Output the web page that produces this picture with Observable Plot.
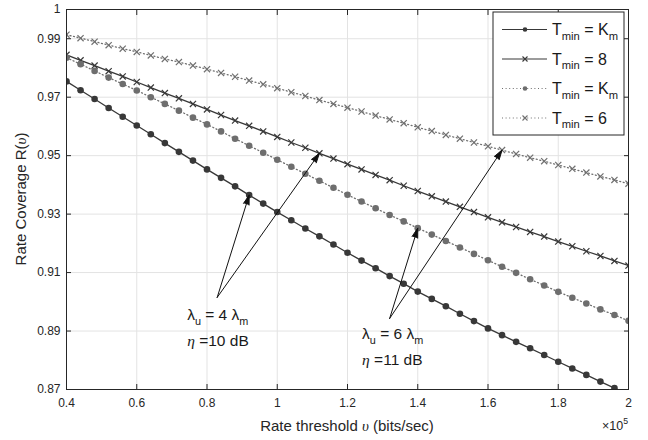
<!DOCTYPE html>
<html><head><meta charset="utf-8">
<script src="https://cdn.jsdelivr.net/npm/d3@7"></script>
<script src="https://cdn.jsdelivr.net/npm/@observablehq/plot@0.6"></script>
<style>
body{margin:0;background:#fff;}
#chart{position:relative;width:648px;height:440px;}
</style></head><body><div id="chart"></div>
<script>
// ---- data (rate threshold in units of 1e5 bits/sec) ----
const rates = [0.40,0.44,0.48,0.52,0.56,0.60,0.64,0.68,0.72,0.76,0.80,0.84,0.88,0.92,0.96,1.00,1.04,1.08,1.12,1.16,1.20,1.24,1.28,1.32,1.36,1.40,1.44,1.48,1.52,1.56,1.60,1.64,1.68,1.72,1.76,1.80,1.84,1.88,1.92,1.96,2.00];
// T_min = K_m (solid, dot)  lambda_u = 4 lambda_m
const coverageKmA = [0.9754,0.9724,0.9694,0.9663,0.9633,0.9603,0.9573,0.9543,0.9513,0.9483,0.9453,0.9424,0.9395,0.9365,0.9336,0.9307,0.9279,0.9251,0.9224,0.9196,0.9168,0.9141,0.9115,0.9088,0.9062,0.9035,0.9010,0.8985,0.8959,0.8934,0.8909,0.8886,0.8863,0.8841,0.8818,0.8795,0.8772,0.8750,0.8727,0.8705,0.8682];
// T_min = 8 (solid, x)
const coverage8 = [0.9845,0.9826,0.9808,0.9789,0.9771,0.9752,0.9733,0.9714,0.9696,0.9677,0.9658,0.9639,0.9620,0.9602,0.9583,0.9564,0.9545,0.9527,0.9508,0.9490,0.9471,0.9453,0.9434,0.9416,0.9397,0.9379,0.9361,0.9343,0.9325,0.9307,0.9289,0.9272,0.9256,0.9239,0.9223,0.9206,0.9190,0.9173,0.9157,0.9140,0.9124];
// T_min = K_m (dotted, dot)  lambda_u = 6 lambda_m
const coverageKmB = [0.9835,0.9813,0.9790,0.9767,0.9745,0.9723,0.9700,0.9677,0.9654,0.9630,0.9607,0.9583,0.9558,0.9534,0.9510,0.9486,0.9462,0.9438,0.9414,0.9390,0.9366,0.9343,0.9320,0.9297,0.9275,0.9252,0.9230,0.9208,0.9186,0.9164,0.9142,0.9120,0.9099,0.9077,0.9056,0.9034,0.9014,0.8994,0.8974,0.8955,0.8935];
// T_min = 6 (dotted, x)
const coverage6 = [0.9914,0.9902,0.9890,0.9878,0.9866,0.9855,0.9843,0.9831,0.9820,0.9808,0.9796,0.9783,0.9770,0.9757,0.9744,0.9731,0.9717,0.9704,0.9690,0.9677,0.9664,0.9651,0.9637,0.9624,0.9611,0.9597,0.9584,0.9571,0.9558,0.9545,0.9532,0.9519,0.9506,0.9493,0.9481,0.9468,0.9455,0.9442,0.9429,0.9417,0.9404];

const xTicks = [0.4,0.6,0.8,1,1.2,1.4,1.6,1.8,2];
const yTicks = [0.87,0.89,0.91,0.93,0.95,0.97,0.99,1];
const legendLabels = [["T","min"," = ","K","m"],["T","min"," = 8"],["T","min"," = ","K","m"],["T","min"," = 6"]];

// annotation arrows: start point and target (rate, coverage)
const arrowStarts = [[0.829,0.9015],[0.829,0.9015],[1.32,0.8943],[1.32,0.8943]];
const arrowTargets = [[0.92,0.9365],[1.12,0.9508],[1.40,0.9252],[1.64,0.9519]];
const annotationLines = [
  {x:0.745, y:0.8935, lam:"4", eta:"10"},
  {x:1.243, y:0.8870, lam:"6", eta:"11"}
];

// ---- styles ----
const styles = [
  {vals: coverageKmA, color:"#383838", dash:null, sym:"circle"},
  {vals: coverage8,   color:"#383838", dash:null, sym:"times"},
  {vals: coverageKmB, color:"#6e6e6e", dash:"1,2.6", sym:"circle"},
  {vals: coverage6,   color:"#707070", dash:"1,2.6", sym:"times"}
];
const fmt = d => String(+(+d).toFixed(2));
const AX = "#262626";

const marks = [
  Plot.gridX(xTicks.slice(1,-1), {stroke:"#e3e3e3", strokeOpacity:1}),
  Plot.gridY(yTicks.slice(1,-1), {stroke:"#e3e3e3", strokeOpacity:1}),
];
for (const s of styles) {
  marks.push(Plot.line(s.vals, {x:(d,i)=>rates[i], y:d=>d, stroke:s.color, strokeWidth:1.3, strokeDasharray:s.dash, clip:true}));
  if (s.sym === "circle")
    marks.push(Plot.dot(s.vals, {x:(d,i)=>rates[i], y:d=>d, r:3.3, fill:s.color, stroke:null, clip:true}));
  else
    marks.push(Plot.dot(s.vals, {x:(d,i)=>rates[i], y:d=>d, symbol:"times", r:2.9, stroke:s.color, strokeWidth:1.2, clip:true}));
}
marks.push(
  Plot.arrow(arrowStarts.map((a,i)=>({a, b:arrowTargets[i]})), {
    x1:d=>d.a[0], y1:d=>d.a[1], x2:d=>d.b[0], y2:d=>d.b[1],
    stroke:"#111", strokeWidth:1, headLength:15, headAngle:34
  }),
  Plot.frame({stroke:AX, strokeWidth:1}),
  Plot.axisX(xTicks, {anchor:"bottom", tickSize:0, tickPadding:9, tickFormat:fmt, label:null, fill:AX, fontSize:12}),
  Plot.axisY(yTicks, {anchor:"left", tickSize:0, tickPadding:6, tickFormat:fmt, label:null, fill:AX, fontSize:12}),
  Plot.axisX(xTicks, {anchor:"bottom", tickSize:-5, text:null, label:null, stroke:AX}),
  Plot.axisX(xTicks, {anchor:"top", tickSize:-5, text:null, label:null, stroke:AX}),
  Plot.axisY(yTicks, {anchor:"left", tickSize:-5, text:null, label:null, stroke:AX}),
  Plot.axisY(yTicks, {anchor:"right", tickSize:-5, text:null, label:null, stroke:AX})
);

const chart = Plot.plot({
  width:648, height:440,
  marginLeft:66, marginRight:20, marginTop:9, marginBottom:51,
  style:{fontFamily:"'Liberation Sans', Arial, sans-serif", fontSize:"12px", color:AX, background:"#fff"},
  x:{domain:[0.4,2]},
  y:{domain:[0.87,1]},
  marks
});
document.getElementById("chart").appendChild(chart);

// ---- post-processing: filled arrowheads, rich text ----
const svg = d3.select(chart);
svg.selectAll('g[aria-label="arrow"] path').attr("fill","#111").attr("stroke-linejoin","miter");
const sx = chart.scale("x"), sy = chart.scale("y");

function addText(x, y, parts, {size=14, anchor="start", transform=null, fill="#1a1a1a", family=null}={}) {
  const t = svg.append("text").attr("x",x).attr("y",y).attr("font-size",size)
    .attr("text-anchor",anchor).attr("fill",fill);
  if (family) t.attr("font-family", family);
  if (transform) t.attr("transform", transform);
  let shift = 0;
  for (const p of parts) {
    const [str, kind] = typeof p === "string" ? [p, null] : p;
    const ts = t.append("tspan").text(str);
    let target = 0, fs = size;
    if (kind === "sub") { target = size*0.3; fs = size*0.7; }
    if (kind === "sup") { target = -size*0.5; fs = size*0.7; }
    ts.attr("dy", target - shift).attr("font-size", fs);
    shift = target;
    if (kind === "it") ts.attr("font-style","italic").attr("font-family","'Liberation Serif', 'DejaVu Serif', serif");
  }
  return t;
}

// axis labels
const cx = (sx.apply(0.4)+sx.apply(2))/2, cy = (sy.apply(0.87)+sy.apply(1))/2;
addText(cx, 431, ["Rate threshold ", ["υ","it"], " (bits/sec)"], {size:15, anchor:"middle", fill:AX});
addText(0, 0, ["Rate Coverage R(", ["υ","it"], ")"], {size:15, anchor:"middle", fill:AX, transform:`translate(26,${cy}) rotate(-90)`});
addText(sx.apply(2), 430, ["×10", ["5","sup"]], {size:12.5, anchor:"end", fill:AX});

// annotations
for (const a of annotationLines) {
  const px = sx.apply(a.x), py = sy.apply(a.y);
  addText(px, py, ["λ", ["u","sub"], " = "+a.lam+" λ", ["m","sub"]], {size:15.5});
  addText(px, py+26, [["η","it"], " ="+a.eta+" dB"], {size:15.5});
}

// legend
const L = {x:493, y:12, w:131, h:123, rows:[29.5,59,88.5,118], x1:502, x2:547, xm:525, xt:552};
svg.append("rect").attr("x",L.x).attr("y",L.y).attr("width",L.w).attr("height",L.h)
  .attr("fill","#fff").attr("stroke",AX).attr("stroke-width",1);
styles.forEach((s,i) => {
  const y = L.rows[i];
  svg.append("line").attr("x1",L.x1).attr("x2",L.x2).attr("y1",y).attr("y2",y)
    .attr("stroke",s.color).attr("stroke-width",1.2).attr("stroke-dasharray",s.dash);
  if (s.sym === "circle")
    svg.append("circle").attr("cx",L.xm).attr("cy",y).attr("r",2.3).attr("fill",s.color);
  else
    svg.append("path").attr("d",`M${L.xm-2.5},${y-2.5}L${L.xm+2.5},${y+2.5}M${L.xm-2.5},${y+2.5}L${L.xm+2.5},${y-2.5}`)
      .attr("stroke",s.color).attr("stroke-width",1.1);
  const lab = legendLabels[i];
  const parts = lab.map((p,j) => (p==="min"||p==="m") ? [p,"sub"] : p);
  addText(L.xt, y+5.5, parts, {size:16});
});
</script>
</body></html>
